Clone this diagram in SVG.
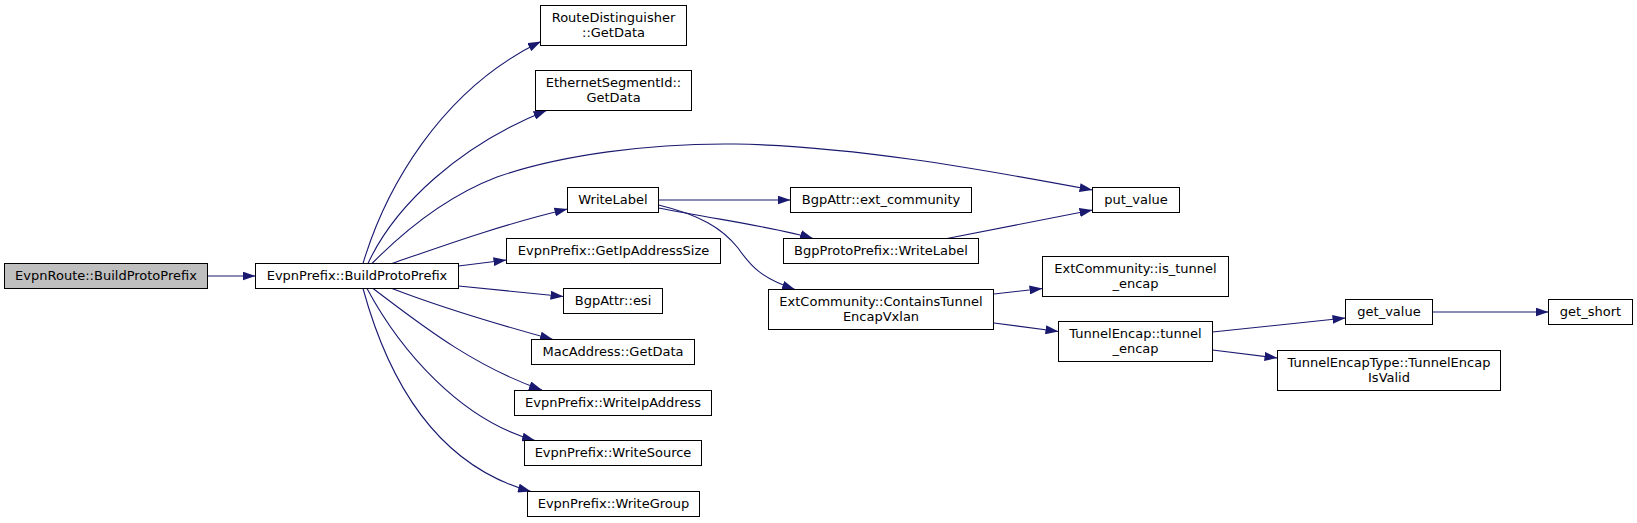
<svg xmlns="http://www.w3.org/2000/svg" width="1637" height="523" viewBox="0 0 1637 523">
<style>
.n rect{fill:#fff;stroke:#000;stroke-width:1}
.n text{font-family:"DejaVu Sans",sans-serif;font-size:13px;text-anchor:middle;fill:#000}
.e path{fill:none;stroke:#191970;stroke-width:1.1;marker-end:url(#a)}
</style>
<defs>
<marker id="a" markerUnits="userSpaceOnUse" markerWidth="13" markerHeight="9" refX="13" refY="4.5" orient="auto"><path d="M0,0 L13,4.5 L0,9 z" fill="#191970"/></marker>
</defs>
<rect width="1637" height="523" fill="#fff"/>
<g class="e" id="edges">
<path d="M207.5,276 L255.5,276"/>
<path d="M363,263.5 C385,190 440,90 541,41.5"/>
<path d="M368,263.5 C395,205 460,145 546.5,110.5"/>
<path d="M372,263.5 C410,225 450,195 497,177 C560,155 650,143 735,144 C850,146 975,168 1092.5,190"/>
<path d="M392,263.5 C440,247 500,225 567.5,209"/>
<path d="M458.5,266 L506.5,260"/>
<path d="M458.5,286 L563.5,296.5"/>
<path d="M392,288.5 C440,307 500,325 553,339.5"/>
<path d="M373,288.5 C415,320 470,365 542,390"/>
<path d="M367,288.5 C400,350 460,420 535,440.5"/>
<path d="M363,288.5 C388,380 435,465 531,491.5"/>
<path d="M658.5,200 L790.5,200"/>
<path d="M658.5,208 C720,220 780,228 813,238.5"/>
<path d="M658.5,205 C700,215 722,228 738,248 C752,268 762,278 795,289.5"/>
<path d="M947,238.5 L1092.5,210"/>
<path d="M994,294 L1042.5,288.5"/>
<path d="M994,323 L1058.5,331.5"/>
<path d="M1212.5,332 L1345.5,318"/>
<path d="M1212.5,350 L1277.5,358"/>
<path d="M1433,312 L1548.5,312"/>
</g>
<g class="n" id="n0"><rect x="4.5" y="263.5" width="203" height="25" style="fill:#bfbfbf"/><text x="106" y="280">EvpnRoute::BuildProtoPrefix</text></g>
<g class="n" id="n1"><rect x="255.5" y="263.5" width="203" height="25"/><text x="357" y="280">EvpnPrefix::BuildProtoPrefix</text></g>
<g class="n" id="n2"><rect x="540.5" y="5.5" width="146" height="40"/><text x="613.5" y="21.5">RouteDistinguisher</text><text x="613.5" y="36.5">::GetData</text></g>
<g class="n" id="n3"><rect x="535.5" y="70.5" width="156" height="40"/><text x="613.5" y="86.5">EthernetSegmentId::</text><text x="613.5" y="101.5">GetData</text></g>
<g class="n" id="n4"><rect x="1092.5" y="187.5" width="87" height="25"/><text x="1136" y="204">put_value</text></g>
<g class="n" id="n5"><rect x="567.5" y="187.5" width="91" height="25"/><text x="613" y="204">WriteLabel</text></g>
<g class="n" id="n6"><rect x="790.5" y="187.5" width="181" height="25"/><text x="881" y="204">BgpAttr::ext_community</text></g>
<g class="n" id="n7"><rect x="783.5" y="238.5" width="195" height="25"/><text x="881" y="255">BgpProtoPrefix::WriteLabel</text></g>
<g class="n" id="n8"><rect x="506.5" y="238.5" width="214" height="25"/><text x="613.5" y="255">EvpnPrefix::GetIpAddressSize</text></g>
<g class="n" id="n9"><rect x="563.5" y="288.5" width="99" height="25"/><text x="613" y="305">BgpAttr::esi</text></g>
<g class="n" id="n10"><rect x="768.5" y="289.5" width="225" height="40"/><text x="881" y="305.5">ExtCommunity::ContainsTunnel</text><text x="881" y="320.5">EncapVxlan</text></g>
<g class="n" id="n11"><rect x="1042.5" y="256.5" width="186" height="40"/><text x="1135.5" y="272.5">ExtCommunity::is_tunnel</text><text x="1135.5" y="287.5">_encap</text></g>
<g class="n" id="n12"><rect x="1058.5" y="321.5" width="154" height="40"/><text x="1135.5" y="337.5">TunnelEncap::tunnel</text><text x="1135.5" y="352.5">_encap</text></g>
<g class="n" id="n13"><rect x="1345.5" y="299.5" width="87" height="25"/><text x="1389" y="316">get_value</text></g>
<g class="n" id="n14"><rect x="1548.5" y="299.5" width="84" height="25"/><text x="1590.5" y="316">get_short</text></g>
<g class="n" id="n15"><rect x="1277.5" y="350.5" width="223" height="40"/><text x="1389" y="366.5">TunnelEncapType::TunnelEncap</text><text x="1389" y="381.5">IsValid</text></g>
<g class="n" id="n16"><rect x="531.5" y="339.5" width="163" height="25"/><text x="613" y="356">MacAddress::GetData</text></g>
<g class="n" id="n17"><rect x="514.5" y="390.5" width="197" height="25"/><text x="613" y="407">EvpnPrefix::WriteIpAddress</text></g>
<g class="n" id="n18"><rect x="524.5" y="440.5" width="177" height="25"/><text x="613" y="457">EvpnPrefix::WriteSource</text></g>
<g class="n" id="n19"><rect x="527.5" y="491.5" width="172" height="25"/><text x="613.5" y="508">EvpnPrefix::WriteGroup</text></g>
</svg>
